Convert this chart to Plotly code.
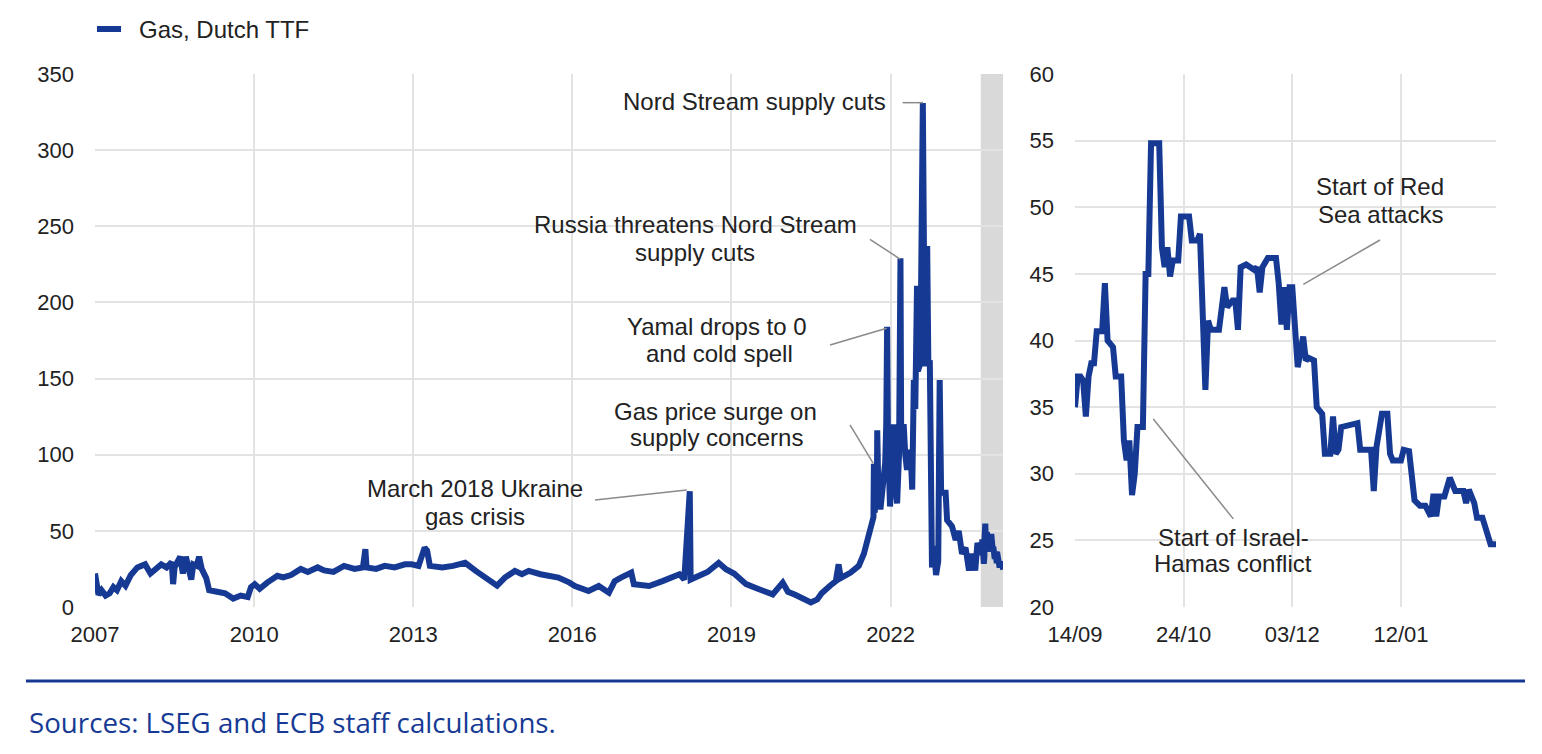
import pandas as pd
import plotly.graph_objects as go

# ---------------- data ----------------
# Left panel: Dutch TTF gas price (EUR/MWh), 2007 - Sep 2023
l_dates = [
    "2007-01-01", "2007-01-10", "2007-01-25", "2007-02-15", "2007-03-15", "2007-04-12", "2007-05-08",
    "2007-06-01", "2007-07-01", "2007-07-30", "2007-09-05", "2007-10-20", "2007-12-12",
    "2008-01-18", "2008-02-25", "2008-04-01", "2008-05-08", "2008-06-12", "2008-06-22", "2008-07-02",
    "2008-08-10", "2008-08-28", "2008-09-18", "2008-10-15", "2008-10-25", "2008-11-08", "2008-12-01",
    "2008-12-18",
    "2009-01-05", "2009-02-05", "2009-02-25", "2009-04-20", "2009-06-15", "2009-08-10", "2009-10-01",
    "2009-11-18", "2009-12-10",
    "2010-01-05", "2010-02-08", "2010-04-01", "2010-06-10", "2010-07-20", "2010-09-12", "2010-11-18",
    "2011-01-05", "2011-03-14", "2011-04-28", "2011-07-01", "2011-09-12", "2011-11-24",
    "2012-01-20", "2012-02-06", "2012-02-14", "2012-04-20", "2012-06-18", "2012-08-25", "2012-11-05",
    "2012-12-20",
    "2013-02-06", "2013-03-20", "2013-04-06", "2013-04-25", "2013-07-20", "2013-10-01", "2013-12-24",
    "2014-03-07", "2014-05-20", "2014-08-01", "2014-09-24", "2014-12-01",
    "2015-01-19", "2015-03-07", "2015-05-27", "2015-09-27", "2015-12-13",
    "2016-01-19", "2016-04-22", "2016-07-01", "2016-09-09", "2016-10-19", "2016-12-01",
    "2017-02-10", "2017-02-28", "2017-06-13", "2017-09-13",
    "2018-01-08", "2018-02-10", "2018-03-20", "2018-03-26", "2018-05-27", "2018-07-20", "2018-10-05",
    "2018-11-24",
    "2019-01-19", "2019-04-12", "2019-07-01", "2019-10-12", "2019-12-20",
    "2020-01-25", "2020-03-15", "2020-05-08", "2020-07-01", "2020-08-14", "2020-09-13", "2020-11-10",
    "2020-12-20",
    "2021-01-08", "2021-01-23", "2021-04-01", "2021-05-27", "2021-07-01", "2021-08-05", "2021-09-05",
    "2021-09-08", "2021-09-14", "2021-09-22", "2021-09-28", "2021-10-01", "2021-10-08", "2021-10-23",
    "2021-11-10", "2021-11-25", "2021-12-02", "2021-12-08", "2021-12-14", "2021-12-28",
    "2022-01-10", "2022-01-23", "2022-02-01", "2022-02-15", "2022-02-28", "2022-03-10", "2022-03-15",
    "2022-04-01", "2022-04-12", "2022-04-24", "2022-05-08", "2022-05-18", "2022-05-30", "2022-06-10",
    "2022-06-20", "2022-07-02", "2022-07-08", "2022-07-25", "2022-08-11", "2022-08-16", "2022-08-25",
    "2022-09-10", "2022-09-18", "2022-09-28", "2022-10-13", "2022-10-25", "2022-11-10", "2022-11-25",
    "2022-12-05", "2022-12-15",
    "2023-01-15", "2023-01-25", "2023-02-28", "2023-03-25", "2023-04-15", "2023-05-08", "2023-06-01",
    "2023-06-25", "2023-07-15", "2023-08-07", "2023-08-22",
]
l_vals = [
    22, 15, 8, 11, 7.5, 9, 13, 11, 17, 14, 21, 26, 28,
    22, 25, 28, 26, 29.5, 15, 26, 33, 22, 33, 24, 18, 28, 27, 33,
    25, 19, 11, 10, 9, 5.5, 7.5, 6.5, 13,
    15, 12, 16, 20.5, 19.5, 21, 25,
    23, 26, 24, 23, 27, 25,
    26, 38, 26, 25, 27, 26, 28, 28,
    27, 39, 37, 27, 26, 27, 29,
    23.7, 19.3, 14, 19.3, 23.7,
    21.5, 23.7, 21.5, 19.3, 16,
    13.8, 10.5, 13.8, 9.4, 17, 19.3,
    22.6, 15, 13.8, 17,
    21.5, 18, 76, 18, 21, 23, 29, 24.8,
    22, 15, 12, 8.3, 16,
    10, 8, 5, 3, 5, 9, 14, 17,
    28, 19, 22.6, 27, 35, 49, 59, 94, 62, 88, 70, 116, 80, 64, 80, 95, 120, 184, 110, 66,
    85, 120, 85, 68, 100, 229, 110, 120, 100, 90, 100, 103, 77, 149, 130, 211, 155, 160, 331, 190,
    158, 237, 160, 162, 26, 40, 21, 30, 149, 75,
    75, 57, 53, 44, 50, 35, 39, 24, 35, 24, 42,
]

# Right panel: daily detail from 14 Sep 2023 (day offsets since 14/09/2023)
r_start = "2023-09-14"
r_day = [0, 1, 2, 3, 4, 5, 6, 7, 8, 10, 11, 12, 14, 15, 17, 18, 19, 20, 21, 22, 23, 25, 26, 27, 28,
         31, 32, 33, 34, 35, 36, 38, 39, 42, 43, 45, 46, 47, 48, 49, 50, 53, 55, 56, 58, 59, 60, 61,
         63, 66, 67, 68, 69, 71, 74, 75, 76, 77, 78, 79, 80, 82, 83, 84, 85, 86, 88, 89, 91, 92, 94,
         95, 96, 97, 98, 104, 105, 109, 110, 111, 113, 115, 116, 117, 120, 121, 123, 124, 125, 127,
         129, 131, 132, 133, 134, 136, 138, 140, 143, 144, 145, 147, 148, 150, 153, 155]
r_val = [35.0, 37.3, 37.3, 37.0, 34.3, 37.3, 38.3, 38.3, 40.7, 40.7, 44.3, 40.0, 39.5, 37.3, 37.3,
         32.5, 31.0, 32.5, 28.4, 30.0, 33.5, 33.5, 45.0, 45.0, 54.8, 54.8, 47.0, 45.5, 47.0, 44.8,
         46.0, 46.0, 49.3, 49.3, 47.5, 47.5, 48.0, 41.7, 36.3, 41.5, 40.8, 40.8, 44.0, 42.5, 43.0,
         43.0, 40.8, 45.5, 45.7, 45.3, 45.5, 43.6, 45.5, 46.2, 46.2, 44.3, 41.2, 44.0, 40.8, 44.0,
         44.0, 38.0, 39.0, 40.3, 38.5, 38.7, 38.5, 35.0, 34.5, 31.5, 31.5, 34.3, 31.5, 31.8, 33.5,
         33.8, 31.8, 31.8, 28.7, 32.0, 34.5, 34.5, 31.5, 31.0, 31.0, 31.8, 31.7, 29.2, 28.0, 27.6,
         27.6, 26.8, 28.5, 26.8, 28.3, 28.3, 29.7, 28.7, 28.7, 27.8, 28.8, 27.8, 26.7, 26.7, 24.7,
         24.7]

left_y_ticks = dict(range=[0, 350], dtick=50)
right_y_ticks = dict(range=[20, 60], dtick=5)
left_x_range = ["2007-01-01", "2024-02-14"]
right_x_range = ["2023-09-14", "2024-02-16"]
shade_start = "2023-09-14"

series_name = "Gas, Dutch TTF"
source_text = "Sources: LSEG and ECB staff calculations."

# ---------------- build ----------------
r_dates = [pd.Timestamp(r_start) + pd.Timedelta(days=d) for d in r_day]
left_x = list(pd.to_datetime(l_dates)) + r_dates
left_y = list(l_vals) + list(r_val)

BLUE = "#163a94"
GRID = "#e3e3e3"
TXT = "#222222"
LEAD = "#8a8a8a"
FONT = "Liberation Sans, Arial, sans-serif"

fig = go.Figure()
fig.add_trace(go.Scatter(x=left_x, y=left_y, mode="lines", name=series_name,
                         line=dict(color=BLUE, width=6), xaxis="x", yaxis="y",
                         showlegend=False))
fig.add_trace(go.Scatter(x=r_dates, y=r_val, mode="lines", name=series_name,
                         line=dict(color=BLUE, width=6), xaxis="x2", yaxis="y2",
                         showlegend=False))

axis_common = dict(showgrid=True, gridcolor=GRID, gridwidth=2, zeroline=False,
                   showline=False, ticks="", tickfont=dict(size=22, color=TXT, family=FONT))

# page body has an 8px margin, so the figure is sized/shifted to compensate
fig.update_layout(
    width=1534, height=746, autosize=False,
    template="none",
    paper_bgcolor="white", plot_bgcolor="white",
    margin=dict(l=87, r=46, t=66, b=147),
    font=dict(family=FONT, size=22, color=TXT),
    showlegend=False,
    xaxis=dict(domain=[0, 0.6481], type="date", range=left_x_range, tick0="2007-01-01",
               dtick="M36", tickformat="%Y", anchor="y", ticklabelstandoff=12, **axis_common),
    yaxis=dict(domain=[0, 1], anchor="x", ticklabelstandoff=20, **left_y_ticks, **axis_common),
    xaxis2=dict(domain=[0.6995, 1], type="date", range=right_x_range, tick0=r_start,
                dtick=40 * 86400000, tickformat="%d/%m", anchor="y2", ticklabelstandoff=12,
                **axis_common),
    yaxis2=dict(domain=[0, 1], anchor="x2", ticklabelstandoff=20, **right_y_ticks, **axis_common),
)

# shaded period (detail window) on left panel
fig.add_shape(type="rect", xref="x", yref="y domain", x0=shade_start, x1=left_x_range[1],
              y0=0, y1=1, fillcolor="#d9d9d9", line=dict(width=0), layer="below")

# annotations: (panel, text, x-frac, y-frac, xanchor)
labels = [
    ("x", "Nord Stream supply cuts", 0.8734, 0.9475, "right"),
    ("x", "Russia threatens Nord Stream", 0.6619, 0.7167, "center"),
    ("x", "supply cuts", 0.6608, 0.6642, "center"),
    ("x", "Yamal drops to 0", 0.6850, 0.5272, "center"),
    ("x", "and cold spell", 0.6883, 0.4747, "center"),
    ("x", "Gas price surge on", 0.6839, 0.3677, "center"),
    ("x", "supply concerns", 0.6850, 0.3171, "center"),
    ("x", "March 2018 Ukraine", 0.4185, 0.2214, "center"),
    ("x", "gas crisis", 0.4185, 0.1707, "center"),
    ("x2", "Start of Red", 0.7245, 0.7880, "center"),
    ("x2", "Sea attacks", 0.7245, 0.7373, "center"),
    ("x2", "Start of Israel-", 0.3753, 0.1313, "center"),
    ("x2", "Hamas conflict", 0.3753, 0.0807, "center"),
]
for ax, txt, xf, yf, xa in labels:
    ya = "y" if ax == "x" else "y2"
    fig.add_annotation(xref=f"{ax} domain", yref=f"{ya} domain", x=xf, y=yf, text=txt,
                       showarrow=False, xanchor=xa, yanchor="middle",
                       font=dict(size=24, color=TXT, family=FONT))

leaders = [
    ("x", 0.8895, 0.9462, 0.9119, 0.9462),
    ("x", 0.8535, 0.6899, 0.8866, 0.6529),
    ("x", 0.8095, 0.4916, 0.8719, 0.5229),
    ("x", 0.8315, 0.3415, 0.8571, 0.2696),
    ("x", 0.5507, 0.2008, 0.6517, 0.2195),
    ("x2", 0.7245, 0.6886, 0.5423, 0.6053),
    ("x2", 0.1860, 0.3527, 0.3760, 0.1653),
]
for ax, x0, y0, x1, y1 in leaders:
    ya = "y" if ax == "x" else "y2"
    fig.add_shape(type="line", xref=f"{ax} domain", yref=f"{ya} domain",
                  x0=x0, y0=y0, x1=x1, y1=y1, line=dict(color=LEAD, width=1.5))

# legend (manual)
fig.add_shape(type="line", xref="paper", yref="paper", x0=0.0014, x1=0.0186, y0=1.0844, y1=1.0844,
              line=dict(color=BLUE, width=6))
fig.add_annotation(xref="paper", yref="paper", x=0.0300, y=1.0844, text=series_name,
                   showarrow=False, xanchor="left", yanchor="middle",
                   font=dict(size=24, color=TXT, family=FONT))

# bottom rule and source
fig.add_shape(type="line", xref="paper", yref="paper", x0=-0.0493, x1=1.0207, y0=-0.1388, y1=-0.1388,
              line=dict(color=BLUE, width=3))
fig.add_annotation(xref="paper", yref="paper", x=-0.0485, y=-0.2158, text=source_text,
                   showarrow=False, xanchor="left", yanchor="middle",
                   font=dict(size=27.7, color=BLUE, family="Open Sans, sans-serif"))

fig.write_html("out.html")
